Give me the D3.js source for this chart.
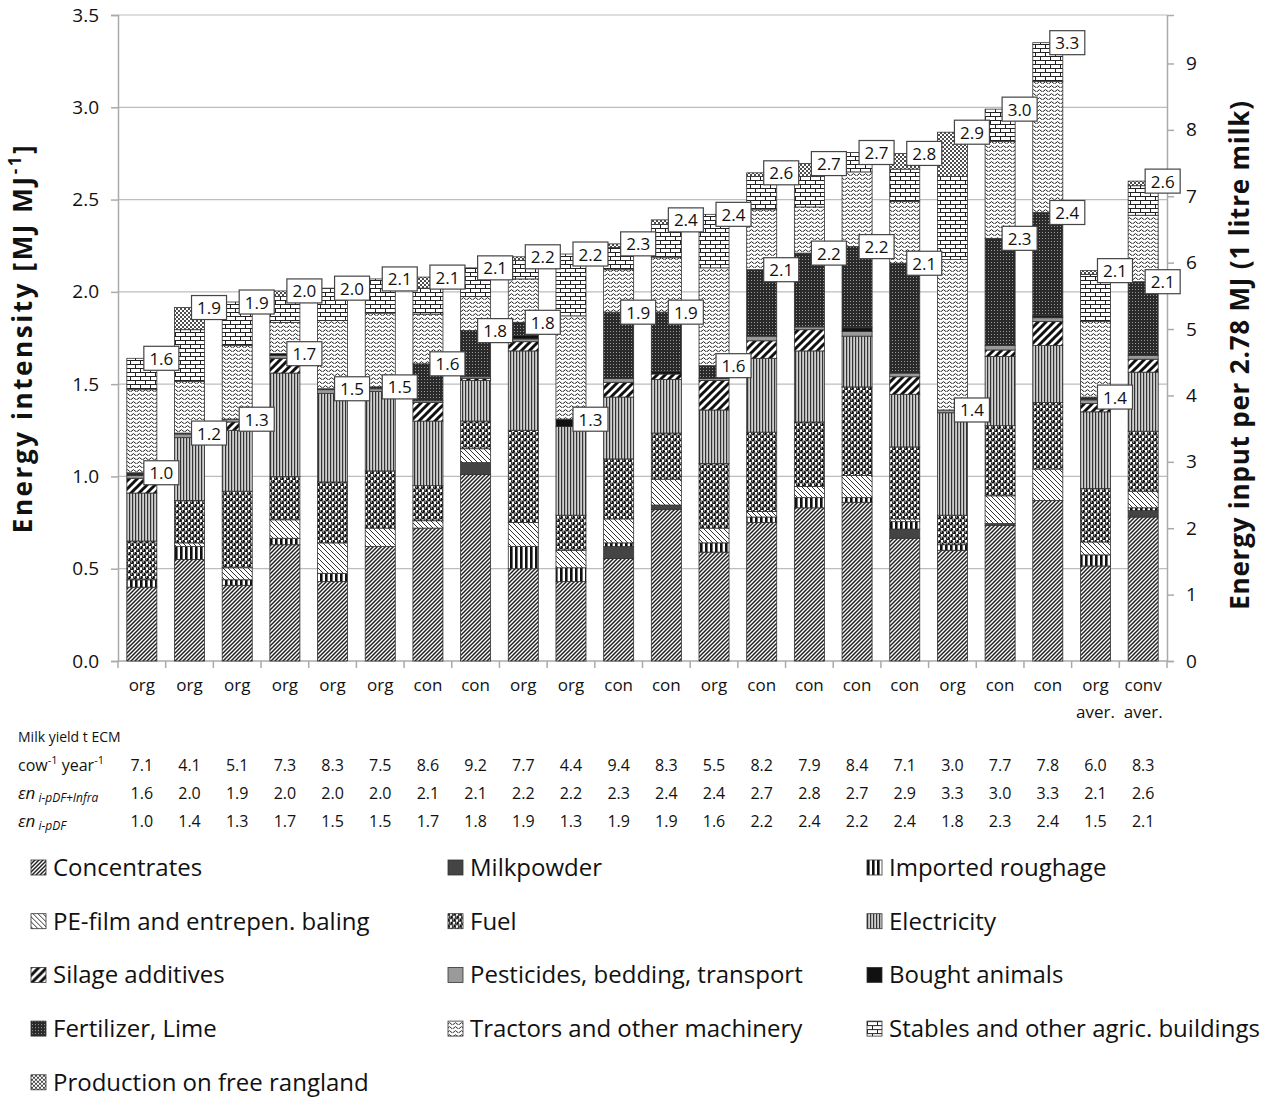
<!DOCTYPE html>
<html>
<head>
<meta charset="utf-8">
<script src="https://cdn.jsdelivr.net/npm/d3@7"></script>
<style>
  body { margin: 0; background: #fff; }
  text { font-family: "Open Sans", sans-serif; fill: #111; }
</style>
</head>
<body>
<div id="chart"></div>
<script>
// farm types along the x axis
var farms = ['org', 'org', 'org', 'org', 'org', 'org', 'con', 'con', 'org', 'org', 'con',
    'con', 'org', 'con', 'con', 'con', 'con', 'org', 'con', 'con', 'org|aver.', 'conv|aver.'];

// energy inputs per source, MJ per MJ milk
var concentrates = [0.40, 0.55, 0.41, 0.63, 0.43, 0.62, 0.72, 1.01, 0.50, 0.43, 0.555, 0.82, 0.59, 0.75, 0.83, 0.86, 0.665, 0.60, 0.735, 0.87, 0.515, 0.78];
var milkpowder = [0, 0, 0, 0, 0, 0, 0, 0.065, 0, 0, 0.065, 0.025, 0, 0, 0, 0, 0.05, 0, 0.01, 0, 0, 0.035];
var roughage = [0.04, 0.07, 0.03, 0.035, 0.045, 0, 0, 0, 0.12, 0.075, 0.02, 0, 0.05, 0.03, 0.055, 0.025, 0.04, 0.03, 0, 0, 0.06, 0.015];
var peFilm = [0, 0.02, 0.065, 0.10, 0.165, 0.10, 0.04, 0.075, 0.13, 0.095, 0.13, 0.14, 0.08, 0.03, 0.06, 0.12, 0.015, 0, 0.15, 0.17, 0.07, 0.09];
var fuel = [0.21, 0.23, 0.415, 0.235, 0.33, 0.31, 0.19, 0.15, 0.50, 0.19, 0.325, 0.25, 0.35, 0.43, 0.35, 0.48, 0.39, 0.16, 0.38, 0.36, 0.29, 0.325];
var electricity = [0.26, 0.34, 0.33, 0.56, 0.48, 0.43, 0.35, 0.22, 0.43, 0.48, 0.335, 0.29, 0.29, 0.40, 0.385, 0.275, 0.285, 0.555, 0.375, 0.31, 0.415, 0.32];
var silage = [0.08, 0, 0.045, 0.08, 0, 0, 0.10, 0.01, 0.05, 0, 0.08, 0.03, 0.16, 0.095, 0.115, 0, 0.095, 0, 0.035, 0.13, 0.045, 0.07];
var pesticides = [0.015, 0.02, 0.015, 0.015, 0.02, 0.015, 0.01, 0.01, 0.015, 0, 0.02, 0, 0.01, 0.025, 0.015, 0.025, 0.02, 0.015, 0.025, 0.02, 0.02, 0.02];
var bought = [0, 0, 0, 0.01, 0, 0, 0, 0, 0.02, 0.04, 0, 0.015, 0, 0, 0, 0.02, 0, 0, 0, 0.01, 0, 0];
var fertilizer = [0.015, 0.005, 0, 0, 0.005, 0.01, 0.20, 0.25, 0.07, 0, 0.36, 0.32, 0.07, 0.36, 0.40, 0.44, 0.595, 0, 0.58, 0.56, 0.015, 0.40];
var tractors = [0.45, 0.28, 0.40, 0.17, 0.37, 0.40, 0.27, 0.185, 0.235, 0.56, 0.23, 0.295, 0.53, 0.325, 0.25, 0.405, 0.335, 0.815, 0.525, 0.71, 0.41, 0.36];
var stables = [0.17, 0.28, 0.235, 0.14, 0.175, 0.185, 0.14, 0.155, 0.10, 0.335, 0.12, 0.18, 0.29, 0.18, 0.165, 0.105, 0.175, 0.45, 0.175, 0.21, 0.255, 0.16];
var rangeland = [0, 0.12, 0, 0.03, 0, 0, 0.06, 0, 0.02, 0, 0.02, 0.025, 0, 0.02, 0.07, 0, 0.085, 0.24, 0, 0, 0.02, 0.025];

// value boxes on the bars
var totalLabels = ['1.6', '1.9', '1.9', '2.0', '2.0', '2.1', '2.1', '2.1', '2.2', '2.2', '2.3', '2.4', '2.4', '2.6', '2.7', '2.7', '2.8', '2.9', '3.0', '3.3', '2.1', '2.6'];
var directLabels = ['1.0', '1.2', '1.3', '1.7', '1.5', '1.5', '1.6', '1.8', '1.8', '1.3', '1.9', '1.9', '1.6', '2.1', '2.2', '2.2', '2.1', '1.4', '2.3', '2.4', '1.4', '2.1'];

// table below the chart
var milkYield = ['7.1', '4.1', '5.1', '7.3', '8.3', '7.5', '8.6', '9.2', '7.7', '4.4', '9.4', '8.3', '5.5', '8.2', '7.9', '8.4', '7.1', '3.0', '7.7', '7.8', '6.0', '8.3'];
var enInfra = ['1.6', '2.0', '1.9', '2.0', '2.0', '2.0', '2.1', '2.1', '2.2', '2.2', '2.3', '2.4', '2.4', '2.7', '2.8', '2.7', '2.9', '3.3', '3.0', '3.3', '2.1', '2.6'];
var enDirect = ['1.0', '1.4', '1.3', '1.7', '1.5', '1.5', '1.7', '1.8', '1.9', '1.3', '1.9', '1.9', '1.6', '2.2', '2.4', '2.2', '2.4', '1.8', '2.3', '2.4', '1.5', '2.1'];

var sources = [
    { key: 'conc', name: 'Concentrates', values: concentrates },
    { key: 'milk', name: 'Milkpowder', values: milkpowder },
    { key: 'rough', name: 'Imported roughage', values: roughage },
    { key: 'pe', name: 'PE-film and entrepen. baling', values: peFilm },
    { key: 'fuel', name: 'Fuel', values: fuel },
    { key: 'elec', name: 'Electricity', values: electricity },
    { key: 'silage', name: 'Silage additives', values: silage },
    { key: 'pest', name: 'Pesticides, bedding, transport', values: pesticides },
    { key: 'bought', name: 'Bought animals', values: bought },
    { key: 'fert', name: 'Fertilizer, Lime', values: fertilizer },
    { key: 'tract', name: 'Tractors and other machinery', values: tractors },
    { key: 'stab', name: 'Stables and other agric. buildings', values: stables },
    { key: 'range', name: 'Production on free rangland', values: rangeland }
];

var width = 1268, height = 1097;
var svg = d3.select('#chart').append('svg')
    .attr('width', width)
    .attr('height', height);

// ---- hatch patterns ----
var defs = svg.append('defs');
function pattern(id, w, h, bg) {
    var p = defs.append('pattern').attr('id', id)
        .attr('patternUnits', 'userSpaceOnUse')
        .attr('width', w).attr('height', h);
    p.append('rect').attr('width', w).attr('height', h).attr('fill', bg || '#fff');
    return p;
}
pattern('conc', 4, 4).append('path')
    .attr('d', 'M-1,1 L1,-1 M0,4 L4,0 M3,5 L5,3')
    .attr('stroke', '#222').attr('stroke-width', 1.5);
pattern('milk', 4, 4, '#444');
pattern('rough', 5, 5).append('rect')
    .attr('width', 2.6).attr('height', 5).attr('fill', '#111');
pattern('pe', 5, 5).append('path')
    .attr('d', 'M0,0 L5,5 M-1,4 L1,6 M4,-1 L6,1')
    .attr('stroke', '#333').attr('stroke-width', 1);
var fp = pattern('fuel', 6, 6);
[[3, 1.5], [0, 4.5], [6, 4.5]].forEach(function (c) {
    fp.append('circle').attr('cx', c[0]).attr('cy', c[1]).attr('r', 2).attr('fill', '#111');
    fp.append('circle').attr('cx', c[0] - 0.6).attr('cy', c[1] - 0.6).attr('r', 0.55).attr('fill', '#fff');
});
pattern('elec', 3, 3, '#cfcfcf').append('rect')
    .attr('width', 1.2).attr('height', 3).attr('fill', '#333');
pattern('silage', 8, 8).append('path')
    .attr('d', 'M-2,2 L2,-2 M0,8 L8,0 M6,10 L10,6')
    .attr('stroke', '#111').attr('stroke-width', 3);
pattern('pest', 4, 4, '#9a9a9a');
pattern('bought', 4, 4, '#111');
pattern('fert', 3, 3, '#2a2a2a').append('rect')
    .attr('x', 1).attr('y', 1).attr('width', 1).attr('height', 1).attr('fill', '#999');
pattern('tract', 6, 4).append('path')
    .attr('d', 'M0,2.8 Q1.5,0.4 3,2.8 T6,2.8')
    .attr('fill', 'none').attr('stroke', '#222').attr('stroke-width', 1);
pattern('stab', 10, 8).append('path')
    .attr('d', 'M0,0.5 H10 M0,4.5 H10 M0.5,0.5 V4.5 M5.5,4.5 V8.5')
    .attr('fill', 'none').attr('stroke', '#222').attr('stroke-width', 1);
var rp = pattern('range', 4, 4);
[[1, 1], [3, 3]].forEach(function (c) {
    rp.append('circle').attr('cx', c[0]).attr('cy', c[1]).attr('r', 1).attr('fill', '#111');
});

// ---- scales ----
var plotLeft = 118, plotRight = 1167, plotTop = 15, plotBottom = 661;
var x = d3.scaleBand()
    .domain(d3.range(farms.length))
    .range([plotLeft, plotRight])
    .paddingInner(0.37)
    .paddingOuter(0.185);
var y = d3.scaleLinear().domain([0, 3.5]).range([plotBottom, plotTop]);
var yRight = d3.scaleLinear().domain([0, 3.5 * 2.78]).range([plotBottom, plotTop]);

// gridlines
svg.append('g').selectAll('line')
    .data(d3.range(0.5, 3.51, 0.5))
    .enter().append('line')
    .attr('x1', plotLeft).attr('x2', plotRight)
    .attr('y1', function (d) { return y(d); })
    .attr('y2', function (d) { return y(d); })
    .attr('stroke', '#bdbdbd').attr('stroke-width', 1.2);

// left axis
var yAxis = svg.append('g')
    .attr('transform', 'translate(' + plotLeft + ',0)')
    .call(d3.axisLeft(y).tickValues(d3.range(0, 3.51, 0.5)).tickFormat(d3.format('.1f')).tickSize(7).tickPadding(12));
// right axis
var yAxisR = svg.append('g')
    .attr('transform', 'translate(' + plotRight + ',0)')
    .call(d3.axisRight(yRight).tickValues(d3.range(0, 10)).tickSize(7).tickPadding(12));
[yAxis, yAxisR].forEach(function (a) {
    a.select('.domain').attr('stroke', '#aaa').attr('stroke-width', 1.5);
    a.selectAll('.tick line').attr('stroke', '#aaa').attr('stroke-width', 1.5);
    a.selectAll('.tick text').style('font-family', '"Open Sans", sans-serif')
        .style('font-size', '19px').attr('fill', '#111');
});

// bottom axis: line with ticks between categories
svg.append('line')
    .attr('x1', plotLeft).attr('x2', plotRight).attr('y1', plotBottom).attr('y2', plotBottom)
    .attr('stroke', '#aaa').attr('stroke-width', 1.5);
svg.append('g').selectAll('line')
    .data(d3.range(farms.length + 1))
    .enter().append('line')
    .attr('x1', function (i) { return plotLeft + i * x.step(); })
    .attr('x2', function (i) { return plotLeft + i * x.step(); })
    .attr('y1', plotBottom).attr('y2', plotBottom + 7)
    .attr('stroke', '#aaa').attr('stroke-width', 1.5);

// ---- stacked bars ----
var rows = farms.map(function (f, i) {
    var r = { idx: i };
    sources.forEach(function (s) { r[s.key] = s.values[i]; });
    return r;
});
var stack = d3.stack().keys(sources.map(function (s) { return s.key; }));
var series = stack(rows);

svg.append('g').selectAll('g')
    .data(series)
    .enter().append('g')
    .attr('fill', function (d) { return 'url(#' + d.key + ')'; })
    .selectAll('rect')
    .data(function (d) { return d.filter(function (p) { return p[1] - p[0] > 0; }); })
    .enter().append('rect')
    .attr('x', function (d) { return x(d.data.idx); })
    .attr('width', x.bandwidth())
    .attr('y', function (d) { return y(d[1]); })
    .attr('height', function (d) { return y(d[0]) - y(d[1]); })
    .attr('stroke', '#333')
    .attr('stroke-width', 0.8);

// value boxes: top of fertilizer (direct inputs) and top of the stack (total)
var fertSeries = series[9], lastSeries = series[series.length - 1];
function addBoxes(getVal, labels) {
    var g = svg.append('g').selectAll('g')
        .data(rows)
        .enter().append('g')
        .attr('transform', function (d, i) {
            return 'translate(' + (x(i) + x.bandwidth() / 2 + 2) + ',' + y(getVal(i)) + ')';
        });
    g.append('rect')
        .attr('x', 0).attr('y', -12)
        .attr('width', 35).attr('height', 24)
        .attr('fill', '#fff').attr('stroke', '#444').attr('stroke-width', 1.2);
    g.append('text')
        .attr('x', 17.5).attr('y', 6.5)
        .attr('text-anchor', 'middle')
        .style('font-size', '17px')
        .text(function (d, i) { return labels[i]; });
}
addBoxes(function (i) { return fertSeries[i][1]; }, directLabels);
addBoxes(function (i) { return lastSeries[i][1]; }, totalLabels);

// category labels
var cat = svg.append('g').selectAll('text')
    .data(farms)
    .enter().append('text')
    .attr('text-anchor', 'middle')
    .attr('x', function (d, i) { return x(i) + x.bandwidth() / 2; })
    .attr('y', 691)
    .style('font-size', '17px');
cat.selectAll('tspan')
    .data(function (d) { return d.split('|'); })
    .enter().append('tspan')
    .attr('x', function () { return d3.select(this.parentNode).attr('x'); })
    .attr('dy', function (d, j) { return j ? 27 : 0; })
    .text(function (d) { return d; });

// axis titles
svg.append('text')
    .attr('transform', 'translate(32,338) rotate(-90)')
    .attr('text-anchor', 'middle')
    .style('font-size', '26px').style('font-weight', 'bold')
    .style('letter-spacing', '2.6px')
    .html('Energy intensity [MJ MJ<tspan dy="-11" font-size="17px">-1</tspan><tspan dy="11">]</tspan>');
svg.append('text')
    .attr('transform', 'translate(1249,355) rotate(-90)')
    .attr('text-anchor', 'middle')
    .style('font-size', '26px').style('font-weight', 'bold')
    .style('letter-spacing', '0.8px')
    .text('Energy input per 2.78 MJ (1 litre milk)');

// ---- table ----
var tbl = svg.append('g');
tbl.append('text').attr('x', 18).attr('y', 742)
    .style('font-size', '14px').text('Milk yield t ECM');
tbl.append('text').attr('x', 18).attr('y', 771)
    .style('font-size', '16px')
    .html('cow<tspan dy="-7" font-size="11px">-1</tspan><tspan dy="7"> year</tspan><tspan dy="-7" font-size="11px">-1</tspan>');
tbl.append('text').attr('x', 18).attr('y', 799)
    .style('font-size', '17px').style('font-style', 'italic')
    .html('εn<tspan font-size="12px" dy="3"> i-pDF+Infra</tspan>');
tbl.append('text').attr('x', 18).attr('y', 827)
    .style('font-size', '17px').style('font-style', 'italic')
    .html('εn<tspan font-size="12px" dy="3"> i-pDF</tspan>');
[[milkYield, 771], [enInfra, 799], [enDirect, 827]].forEach(function (r) {
    tbl.append('g').selectAll('text')
        .data(r[0])
        .enter().append('text')
        .attr('text-anchor', 'middle')
        .attr('x', function (d, i) { return x(i) + x.bandwidth() / 2; })
        .attr('y', r[1])
        .style('font-size', '16px')
        .text(function (d) { return d; });
});

// ---- legend ----
var legend = svg.append('g').selectAll('g')
    .data(sources)
    .enter().append('g')
    .attr('transform', function (d, i) {
        var col = i % 3, row = Math.floor(i / 3);
        return 'translate(' + [31, 448, 867][col] + ',' + (868 + row * 53.7) + ')';
    });
legend.append('rect')
    .attr('x', 0).attr('y', -8)
    .attr('width', 15).attr('height', 15)
    .attr('fill', function (d) { return 'url(#' + d.key + ')'; })
    .attr('stroke', '#333').attr('stroke-width', 0.8);
legend.append('text')
    .attr('x', 22).attr('y', 8)
    .style('font-size', '24px')
    .text(function (d) { return d.name; });
</script>
</body>
</html>
